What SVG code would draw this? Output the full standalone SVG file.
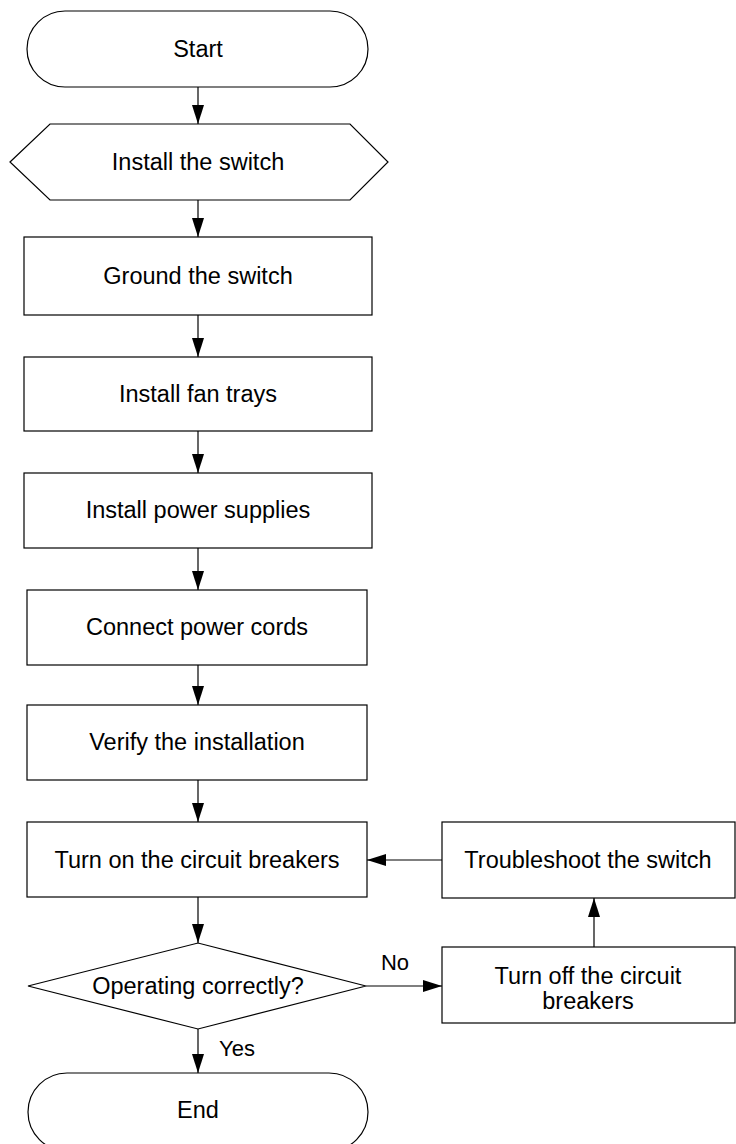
<svg xmlns="http://www.w3.org/2000/svg" width="736" height="1144" viewBox="0 0 736 1144">
<style>
.s{fill:#fff;stroke:#000;stroke-width:1.2}
.t{font-family:"Liberation Sans",Arial,sans-serif;font-size:23.5px;fill:#000;text-anchor:middle}
.c{fill:none;stroke:#000;stroke-width:1.2}
</style>
<defs>
<marker id="ah" markerUnits="userSpaceOnUse" markerWidth="20" markerHeight="13" refX="19" refY="6" orient="auto">
<path d="M0,0 L19,6 L0,12 Z" fill="#000"/>
</marker>
</defs>
<rect width="736" height="1144" fill="#fff"/>
<g id="connectors">
<line class="c" x1="198" y1="87" x2="198" y2="124" marker-end="url(#ah)"/>
<line class="c" x1="198" y1="200" x2="198" y2="237" marker-end="url(#ah)"/>
<line class="c" x1="198" y1="315" x2="198" y2="357" marker-end="url(#ah)"/>
<line class="c" x1="198" y1="431" x2="198" y2="473" marker-end="url(#ah)"/>
<line class="c" x1="198" y1="548" x2="198" y2="590" marker-end="url(#ah)"/>
<line class="c" x1="198" y1="665" x2="198" y2="705" marker-end="url(#ah)"/>
<line class="c" x1="198" y1="780" x2="198" y2="822" marker-end="url(#ah)"/>
<line class="c" x1="198" y1="897" x2="198" y2="943" marker-end="url(#ah)"/>
<line class="c" x1="198" y1="1029" x2="198" y2="1073" marker-end="url(#ah)"/>
<line class="c" x1="366" y1="986" x2="442" y2="986" marker-end="url(#ah)"/>
<line class="c" x1="594" y1="947" x2="594" y2="898" marker-end="url(#ah)"/>
<line class="c" x1="442" y1="860" x2="367" y2="860" marker-end="url(#ah)"/>
<text class="t" x="395" y="970" style="font-size:22px">No</text>
<text class="t" x="237" y="1056" style="font-size:22px">Yes</text>
</g>
<g id="start">
<rect class="s" x="27" y="11" width="341" height="76" rx="38" ry="38"/>
<text class="t" x="198" y="57">Start</text>
</g>
<g id="install-switch">
<polygon class="s" points="10,162 50,124 350,124 388,162 350,200 50,200"/>
<text class="t" x="198" y="170">Install the switch</text>
</g>
<g id="ground">
<rect class="s" x="24" y="237" width="348" height="78"/>
<text class="t" x="198" y="284">Ground the switch</text>
</g>
<g id="fan">
<rect class="s" x="24" y="357" width="348" height="74"/>
<text class="t" x="198" y="402">Install fan trays</text>
</g>
<g id="power">
<rect class="s" x="24" y="473" width="348" height="75"/>
<text class="t" x="198" y="518">Install power supplies</text>
</g>
<g id="cords">
<rect class="s" x="27" y="590" width="340" height="75"/>
<text class="t" x="197" y="635">Connect power cords</text>
</g>
<g id="verify">
<rect class="s" x="27" y="705" width="340" height="75"/>
<text class="t" x="197" y="750">Verify the installation</text>
</g>
<g id="turn-on">
<rect class="s" x="27" y="822" width="340" height="75"/>
<text class="t" x="197" y="868">Turn on the circuit breakers</text>
</g>
<g id="decision">
<polygon class="s" points="28,986 198,943 366,986 198,1029"/>
<text class="t" x="198" y="994">Operating correctly?</text>
</g>
<g id="end">
<rect class="s" x="28" y="1073" width="340" height="78" rx="39" ry="39"/>
<text class="t" x="198" y="1118">End</text>
</g>
<g id="troubleshoot">
<rect class="s" x="442" y="822" width="293" height="76"/>
<text class="t" x="588" y="868">Troubleshoot the switch</text>
</g>
<g id="turn-off">
<rect class="s" x="442" y="947" width="293" height="76"/>
<text class="t" x="588" y="984">Turn off the circuit</text>
<text class="t" x="588" y="1009">breakers</text>
</g>
</svg>
